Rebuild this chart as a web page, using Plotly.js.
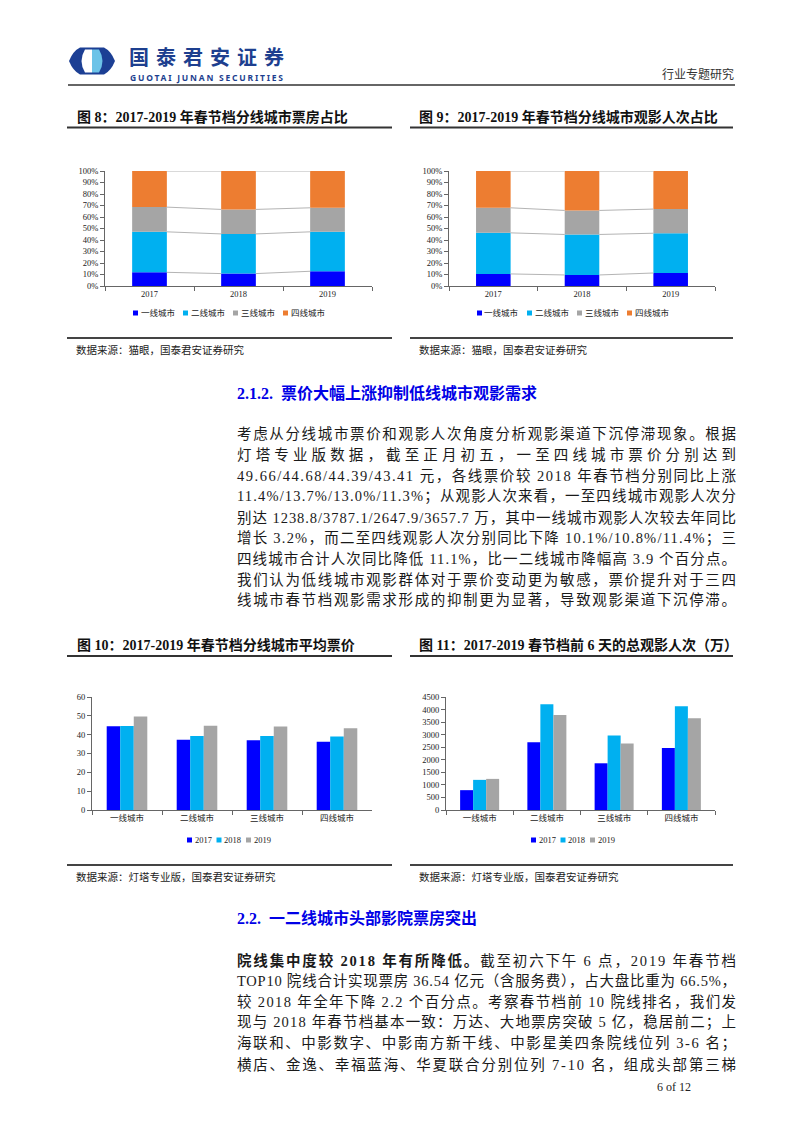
<!DOCTYPE html>
<html><head><meta charset="utf-8">
<script src="https://cdn.plot.ly/plotly-3.0.1.min.js"></script>
<style>html,body{margin:0;padding:0;background:#fff}</style>
</head><body><div id="page" style="width:802px;height:1133px"></div>
<script>
// ---------- data ----------
const years = ['2017', '2018', '2019'];
const tiers = ['一线城市', '二线城市', '三线城市', '四线城市'];
// 图8 票房占比 (%)
const boxShare1 = [11.9, 10.8, 12.8];
const boxShare2 = [35.2, 34.5, 34.3];
const boxShare3 = [21.5, 21.3, 20.9];
const boxShare4 = [31.4, 33.4, 32.0];
// 图9 观影人次占比 (%)
const attShare1 = [10.5, 9.6, 11.3];
const attShare2 = [35.7, 35.2, 34.6];
const attShare3 = [21.8, 20.9, 21.0];
const attShare4 = [32.0, 34.3, 33.1];
// 图10 平均票价 (元)
const price2017 = [44.5, 37.3, 37.0, 36.3];
const price2018 = [44.6, 39.3, 39.3, 39.0];
const price2019 = [49.66, 44.68, 44.39, 43.41];
// 图11 观影人次 (万)
const att2017 = [790, 2700, 1860, 2470];
const att2018 = [1200, 4210, 2970, 4130];
const att2019 = [1238.8, 3787.1, 2647.9, 3657.7];

const tierColors = ['#0000ff', '#00b0f0', '#a5a5a5', '#ed7d31'];
const yearColors = ['#0000ff', '#00b0f0', '#a5a5a5'];

// ---------- helpers ----------
const W = 802, H = 1133;
const px = x => x / W;
const py = y => 1 - y / H;
const SERIF = '"Liberation Serif", "Times New Roman", "Noto Sans CJK SC", serif';
const CJK = '"Noto Sans CJK SC", sans-serif';
const traces = [], shapes = [], annotations = [], justify = [];

function txt(text, x, y, size, opts) {
  opts = opts || {};
  const a = {
    text: text, xref: 'paper', yref: 'paper', x: px(x), y: py(y),
    xanchor: opts.xanchor || 'left', yanchor: 'middle', showarrow: false,
    borderpad: 0,
    font: {family: opts.family || SERIF, size: size, color: opts.color || '#1a1a1a', weight: opts.weight || 'normal'}
  };
  annotations.push(a);
  if (opts.justify) justify.push([annotations.length - 1, opts.justify]);
}
function hline(x0, x1, y, w, c) {
  shapes.push({type: 'line', xref: 'paper', yref: 'paper', x0: px(x0), x1: px(x1), y0: py(y), y1: py(y),
    line: {color: c || '#333', width: w}});
}
function toPaper(d) {
  return d.replace(/(-?\d+\.?\d*),(-?\d+\.?\d*)/g, (m, a, b) => (a / W).toFixed(5) + ',' + (1 - b / H).toFixed(5));
}
function legend(names, colors, x0, step, y) {
  names.forEach((n, k) => {
    const x = x0 + k * step;
    shapes.push({type: 'rect', xref: 'paper', yref: 'paper', x0: px(x), x1: px(x + 5), y0: py(y + 2.5), y1: py(y - 2.5),
      fillcolor: colors[k], line: {width: 0}});
    txt(n, x + 6.5, y, 8.5);
  });
}

// ---------- stacked share charts (图8, 图9) ----------
const BW = 0.39;
function stacked(series, xa, ya) {
  const xs = years.map((_, i) => i);
  let cum = years.map(() => 0);
  const tops = [];
  series.forEach((vals, k) => {
    traces.push({type: 'bar', x: xs, y: vals, base: cum.slice(), width: BW, offsetgroup: 'stk' + xa,
      marker: {color: tierColors[k], line: {width: 0}}, name: tiers[k], showlegend: false,
      xaxis: xa, yaxis: ya, hoverinfo: 'skip'});
    cum = cum.map((c, i) => c + vals[i]);
    tops.push(cum.slice());
  });
  // series lines between bar tops
  const lx = [], ly = [];
  tops.forEach(t => {
    for (let i = 0; i < t.length - 1; i++) {
      lx.push(i + BW / 2, i + 1 - BW / 2, null);
      ly.push(t[i], t[i + 1], null);
    }
  });
  traces.push({type: 'scatter', mode: 'lines', x: lx, y: ly, line: {color: '#b4b4b4', width: 1},
    xaxis: xa, yaxis: ya, showlegend: false, hoverinfo: 'skip'});
}
stacked([boxShare1, boxShare2, boxShare3, boxShare4], 'x', 'y');
stacked([attShare1, attShare2, attShare3, attShare4], 'x2', 'y2');

// ---------- grouped charts (图10, 图11) ----------
[[price2017, price2018, price2019], [att2017, att2018, att2019]].forEach((grp, g) => {
  grp.forEach((vals, k) => {
    traces.push({type: 'bar', x: tiers, y: vals, name: years[k], marker: {color: yearColors[k], line: {width: 0}},
      xaxis: g === 0 ? 'x3' : 'x4', yaxis: g === 0 ? 'y3' : 'y4', showlegend: false, hoverinfo: 'skip'});
  });
});

const tickFont = {family: SERIF, size: 8.5, color: '#222'};
const axLine = '#666';
function shareX(x0, x1, anchor) {
  return {domain: [px(x0), px(x1)], anchor: anchor, range: [-0.5, 2.5], tickmode: 'array',
    tickvals: years.map((_, i) => i), ticktext: years, ticks: '', showgrid: false, zeroline: false,
    showline: true, linecolor: axLine, linewidth: 1, tickfont: tickFont,
    minor: {tickmode: 'array', tickvals: [-0.5, 0.5, 1.5, 2.5], ticks: 'outside', ticklen: 4, tickcolor: axLine, showgrid: false}};
}
function shareY(anchor) {
  return {domain: [py(286), py(171)], anchor: anchor, range: [0, 100], dtick: 10, ticksuffix: '%',
    ticks: 'outside', ticklen: 4, tickcolor: axLine, showline: true, linecolor: axLine, linewidth: 1,
    showgrid: false, zeroline: false, tickfont: tickFont};
}
function catX(x0, x1, anchor) {
  return {domain: [px(x0), px(x1)], anchor: anchor, type: 'category', tickson: 'boundaries', ticks: 'outside',
    ticklen: 4, tickcolor: axLine, showline: true, linecolor: axLine, linewidth: 1, showgrid: false, tickfont: tickFont};
}
function valY(anchor, max, step) {
  return {domain: [py(810), py(697)], anchor: anchor, range: [0, max], dtick: step, ticks: 'outside', ticklen: 4,
    tickcolor: axLine, showline: true, linecolor: axLine, linewidth: 1, showgrid: false, zeroline: false, tickfont: tickFont};
}

// ---------- page furniture ----------
// logo
shapes.push({type: 'path', xref: 'paper', yref: 'paper', fillcolor: '#1c3f94', line: {width: 0},
  path: toPaper('M69,61 Q73,51 80,47.5 L104,47.5 Q111,51 115,61 Q111,71 104,74.5 L80,74.5 Q73,71 69,61 Z')});
shapes.push({type: 'path', xref: 'paper', yref: 'paper', fillcolor: '#ffffff', line: {width: 0},
  path: toPaper('M92,49.5 L85,49.5 Q78,61 85,72.5 L92,72.5 Z')});
shapes.push({type: 'path', xref: 'paper', yref: 'paper', fillcolor: '#6cc3e8', line: {width: 0},
  path: toPaper('M92,49.5 L99,49.5 Q106,61 99,72.5 L92,72.5 Z')});
txt('国泰君安证券', 128, 56.5, 20, {family: CJK, weight: 'bold', color: '#1d3f8f', justify: 155});
txt('GUOTAI JUNAN SECURITIES', 129, 77.5, 8.5, {family: '"Noto Sans", sans-serif', weight: 'bold', color: '#1d3f8f', justify: 153});
txt('行业专题研究', 661, 74, 12, {color: '#333'});
hline(68, 735, 85, 1.3, '#333');

// chart titles & rules
txt('图 8：2017-2019 年春节档分线城市票房占比', 76, 117, 14, {weight: 'bold', color: '#111'});
txt('图 9：2017-2019 年春节档分线城市观影人次占比', 418, 117, 14, {weight: 'bold', color: '#111'});
hline(67, 392, 127.5, 2, '#333');
hline(410, 733, 127.5, 2, '#333');
legend(tiers, tierColors, 133, 50, 313);
legend(tiers, tierColors, 477, 50, 313);
hline(67, 392, 338, 2, '#444');
hline(410, 733, 338, 2, '#444');
txt('数据来源：猫眼，国泰君安证券研究', 75, 350, 10.5, {color: '#222'});
txt('数据来源：猫眼，国泰君安证券研究', 418, 350, 10.5, {color: '#222'});

// section 2.1.2
txt('2.1.2.\u00a0\u00a0票价大幅上涨抑制低线城市观影需求', 236, 393, 16, {weight: 'bold', color: '#0000e6'});
const para1 = [
  '考虑从分线城市票价和观影人次角度分析观影渠道下沉停滞现象。根据',
  '灯塔专业版数据，截至正月初五，一至四线城市票价分别达到',
  '49.66/44.68/44.39/43.41 元，各线票价较 2018 年春节档分别同比上涨',
  '11.4%/13.7%/13.0%/11.3%；从观影人次来看，一至四线城市观影人次分',
  '别达 1238.8/3787.1/2647.9/3657.7 万，其中一线城市观影人次较去年同比',
  '增长 3.2%，而二至四线观影人次分别同比下降 10.1%/10.8%/11.4%；三',
  '四线城市合计人次同比降低 11.1%，比一二线城市降幅高 3.9 个百分点。',
  '我们认为低线城市观影群体对于票价变动更为敏感，票价提升对于三四',
  '线城市春节档观影需求形成的抑制更为显著，导致观影渠道下沉停滞。'
];
para1.forEach((l, i) => txt(l, 236, 434 + i * 20.8, 14.5, {justify: 499}));

// chart titles 10/11
txt('图 10：2017-2019 年春节档分线城市平均票价', 76, 645, 14, {weight: 'bold', color: '#111'});
txt('图 11：2017-2019 春节档前 6 天的总观影人次（万）', 418, 645, 14, {weight: 'bold', color: '#111'});
hline(67, 392, 656, 2, '#333');
hline(410, 733, 656, 2, '#333');
legend(years, yearColors, 187, 29.5, 840);
legend(years, yearColors, 531, 29.5, 840);
hline(67, 392, 865, 2, '#444');
hline(410, 733, 865, 2, '#444');
txt('数据来源：灯塔专业版，国泰君安证券研究', 75, 877, 10.5, {color: '#222'});
txt('数据来源：灯塔专业版，国泰君安证券研究', 418, 877, 10.5, {color: '#222'});

// section 2.2
txt('2.2.\u00a0\u00a0一二线城市头部影院票房突出', 236, 918, 16, {weight: 'bold', color: '#0000e6'});
const para2 = [
  '<b>院线集中度较 2018 年有所降低。</b>截至初六下午 6 点，2019 年春节档',
  'TOP10 院线合计实现票房 36.54 亿元（含服务费），占大盘比重为 66.5%，',
  '较 2018 年全年下降 2.2 个百分点。考察春节档前 10 院线排名，我们发',
  '现与 2018 年春节档基本一致：万达、大地票房突破 5 亿，稳居前二；上',
  '海联和、中影数字、中影南方新干线、中影星美四条院线位列 3-6 名；',
  '横店、金逸、幸福蓝海、华夏联合分别位列 7-10 名，组成头部第三梯'
];
para2.forEach((l, i) => txt(l, 236, 960 + i * 20.8, 14.5, {justify: 499}));
txt('6 of 12', 656, 1087, 12, {color: '#222'});

const layout = {
  width: W, height: H, margin: {l: 0, r: 0, t: 0, b: 0}, paper_bgcolor: '#fff', plot_bgcolor: 'rgba(0,0,0,0)',
  showlegend: false, barmode: 'group', bargap: 0.42, bargroupgap: 0,
  xaxis: shareX(105, 372, 'y'), yaxis: shareY('x'),
  xaxis2: shareX(449, 715, 'y2'), yaxis2: shareY('x2'),
  xaxis3: catX(92, 372, 'y3'), yaxis3: valY('x3', 60, 10),
  xaxis4: catX(446, 715, 'y4'), yaxis4: valY('x4', 4500, 500),
  shapes: shapes, annotations: annotations
};

Plotly.newPlot('page', traces, layout, {staticPlot: true, displayModeBar: false}).then(gd => {
  justify.forEach(([idx, width]) => {
    const g = gd.querySelector('.annotation[data-index="' + idx + '"]');
    if (!g) return;
    const t = g.querySelector('text.annotation-text');
    if (!t) return;
    const bb = t.getBBox();
    t.setAttribute('text-anchor', 'start');
    t.setAttribute('x', bb.x);
    t.querySelectorAll('tspan.line').forEach(s => s.setAttribute('x', bb.x));
    t.setAttribute('textLength', width);
    t.setAttribute('lengthAdjust', 'spacing');
  });
});
</script>
</body></html>
